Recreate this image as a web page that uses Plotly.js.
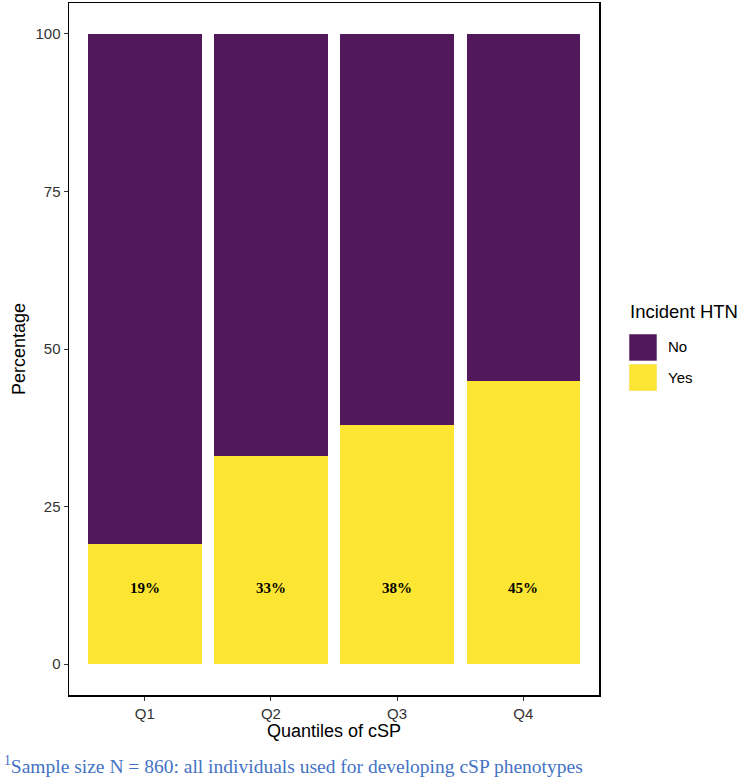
<!DOCTYPE html>
<html>
<head>
<meta charset="utf-8">
<script src="https://cdn.plot.ly/plotly-3.0.1.min.js"></script>
<style>html,body{margin:0;padding:0;background:#fff;}#chart{width:742px;height:780px;}</style>
</head>
<body>
<div id="chart"></div>
<script>
const categories = ["Q1", "Q2", "Q3", "Q4"];
const yesValues = [19, 33, 38, 45];
const noValues = [81, 67, 62, 55];
const yesLabels = ["19%", "33%", "38%", "45%"];
const labelY = [12, 12, 12, 12];
const seriesNames = ["No", "Yes"];
const seriesColors = ["#51195B", "#FCE633"];
const yTickVals = [0, 25, 50, 75, 100];

const traces = [
  {type: "bar", x: categories, y: yesValues, name: seriesNames[1], marker: {color: seriesColors[1], line: {width: 0}}, width: 0.9, hoverinfo: "skip"},
  {type: "bar", x: categories, y: noValues, name: seriesNames[0], marker: {color: seriesColors[0], line: {width: 0}}, width: 0.9, hoverinfo: "skip"}
];

const annotations = categories.map((c, i) => ({
  x: c, y: labelY[i], xref: "x", yref: "y", text: "<b>" + yesLabels[i] + "</b>",
  showarrow: false, font: {family: "Liberation Serif, Times New Roman, serif", size: 15, color: "#000"}
}));

// Legend (manual, ggplot style)
annotations.push({x: 1.0547, y: 0.5535, xref: "paper", yref: "paper", xanchor: "left", yanchor: "middle",
  text: "Incident HTN", showarrow: false, font: {family: "Liberation Sans, Arial, sans-serif", size: 18.5, color: "#000"}});
annotations.push({x: 1.1264, y: 0.5029, xref: "paper", yref: "paper", xanchor: "left", yanchor: "middle",
  text: seriesNames[0], showarrow: false, font: {family: "Liberation Sans, Arial, sans-serif", size: 15, color: "#000"}});
annotations.push({x: 1.1264, y: 0.4581, xref: "paper", yref: "paper", xanchor: "left", yanchor: "middle",
  text: seriesNames[1], showarrow: false, font: {family: "Liberation Sans, Arial, sans-serif", size: 15, color: "#000"}});
// Footer
annotations.push({x: -0.1264, y: -0.101, xref: "paper", yref: "paper", xanchor: "left", yanchor: "middle",
  text: "<sup>1</sup>Sample size N = 860: all individuals used for developing cSP phenotypes", showarrow: false,
  font: {family: "Liberation Serif, Times New Roman, serif", size: 19.5, color: "#4472C4"}});

const shapes = [
  {type: "rect", xref: "paper", yref: "paper", x0: 1.0566, x1: 1.1094, y0: 0.4827, y1: 0.5217, fillcolor: seriesColors[0], line: {width: 0.6, color: "#f2f2f2"}},
  {type: "rect", xref: "paper", yref: "paper", x0: 1.0566, x1: 1.1094, y0: 0.4393, y1: 0.4783, fillcolor: seriesColors[1], line: {width: 0.6, color: "#f2f2f2"}}
];

const layout = {
  width: 742, height: 780,
  margin: {l: 69, r: 143, t: 3, b: 85},
  paper_bgcolor: "#fff", plot_bgcolor: "#fff",
  barmode: "stack", bargap: 0.1,
  showlegend: false,
  font: {family: "Liberation Sans, Arial, sans-serif", color: "#000"},
  xaxis: {
    type: "category", categoryarray: categories, range: [-0.6, 3.6],
    showline: true, mirror: true, linecolor: "#000", linewidth: 1.5,
    ticks: "outside", ticklen: 4, tickcolor: "#333", tickwidth: 1,
    showgrid: false, zeroline: false,
    tickfont: {size: 15, color: "#333"},
    title: {text: "Quantiles of cSP", font: {size: 18, color: "#000"}, standoff: 4}
  },
  yaxis: {
    range: [-4.9, 104.9], tickvals: yTickVals,
    showline: true, mirror: true, linecolor: "#000", linewidth: 1.5,
    ticks: "outside", ticklen: 4, tickcolor: "#333", tickwidth: 1,
    showgrid: false, zeroline: false,
    tickfont: {size: 15, color: "#333"},
    title: {text: "Percentage", font: {size: 18, color: "#000"}, standoff: 5}
  },
  annotations: annotations,
  shapes: shapes
};

Plotly.newPlot("chart", traces, layout, {displayModeBar: false, staticPlot: true});
</script>
</body>
</html>
